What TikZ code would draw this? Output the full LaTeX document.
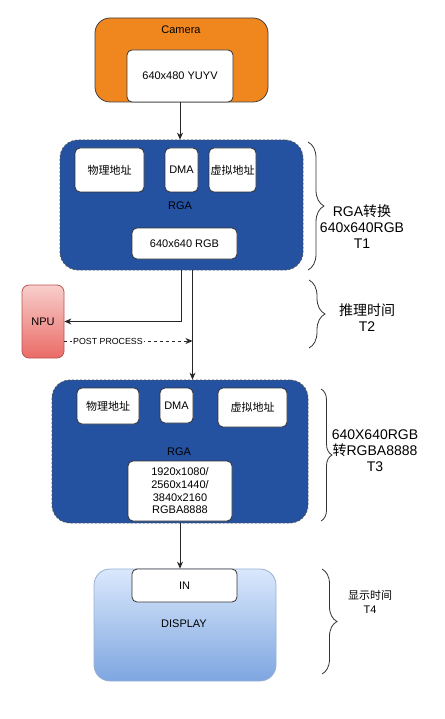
\documentclass[tikz,border=0pt]{standalone}
\usepackage{fontspec}
\setmainfont{Liberation Sans}
\newfontfamily\cjk{Noto Sans CJK SC}
\usetikzlibrary{arrows.meta, decorations.pathreplacing}

\definecolor{cameraorange}{RGB}{240,135,30}
\definecolor{rgablue}{RGB}{36,81,160}
\definecolor{npulight}{RGB}{248,206,204}
\definecolor{npudark}{RGB}{234,107,102}
\definecolor{npuline}{RGB}{184,84,80}
\definecolor{displight}{RGB}{218,232,252}
\definecolor{dispdark}{RGB}{126,166,224}
\definecolor{displine}{RGB}{108,142,191}

\tikzset{
  every node/.style={font=\fontsize{11}{13}\selectfont, inner sep=0pt},
  box/.style={draw=black!80, fill=white, rounded corners=5pt, line width=0.8pt, align=center},
  camerabox/.style={draw=black!75, fill=cameraorange, rounded corners=15pt, line width=0.8pt},
  rgabox/.style={draw=black!70, dash pattern=on 2pt off 2pt, fill=rgablue, rounded corners=18pt, line width=0.8pt},
  npubox/.style={draw=npuline, top color=npulight, bottom color=npudark, rounded corners=7pt, line width=0.8pt},
  displaybox/.style={draw=displine!70, top color=displight, bottom color=dispdark, rounded corners=16pt, line width=0.8pt},
  link/.style={-{Stealth[length=7pt,width=6pt]}, line width=0.8pt, draw=black!85},
  sidebrace/.style={decorate, line width=0.8pt, draw=black!80},
  note/.style={font=\fontsize{14}{16}\selectfont, align=center},
  smallnote/.style={font=\fontsize{11}{14}\selectfont, align=center}
}

\begin{document}
\begin{tikzpicture}[x=1pt, y=-1pt]
\useasboundingbox (0,0) rectangle (444,719);
% Camera source
\node [camerabox, minimum width=173pt, minimum height=84pt] (camera) at (181.5,60) {};
\node (cameratitle) at (181,30) {Camera};
\node [box, minimum width=106pt, minimum height=52pt] (camin) at (180,76) {640x480 YUYV};
% First RGA stage
\node [rgabox, minimum width=243pt, minimum height=130pt] (rga1) at (181.5,205) {};
\node [box, minimum width=69pt, minimum height=44pt] (phys1) at (109.5,170) {\cjk 物理地址};
\node [box, minimum width=33pt, minimum height=44pt] (dma1) at (181.5,170) {DMA};
\node [box, minimum width=47pt, minimum height=44pt] (virt1) at (232.5,170) {\cjk 虚拟地址};
\node (rga1title) at (180,206) {RGA};
\node [box, minimum width=105pt, minimum height=31pt] (rgb1) at (184.5,243.5) {640x640 RGB};
\draw [link] (camin.south) -- (camin.south |- rga1.north);
% NPU and post processing
\node [npubox, minimum width=42pt, minimum height=73pt] (npu) at (43,321.5) {NPU};
\draw [link] (rga1.south) |- (npu.east);
\coordinate (feed) at (192.5,341);
\draw [link, dash pattern=on 3pt off 3pt] ([yshift=-19.5pt]npu.east) -- node [pos=0.34, fill=white, inner sep=1pt, font=\fontsize{8.8}{10}\selectfont] (post) {POST PROCESS} (feed);
% Second RGA stage
\node [rgabox, minimum width=256pt, minimum height=143pt] (rga2) at (180,451.5) {};
\node [box, minimum width=62pt, minimum height=36pt] (phys2) at (108,406) {\cjk 物理地址};
\node [box, minimum width=33pt, minimum height=35pt] (dma2) at (176.5,405.5) {DMA};
\node [box, minimum width=69pt, minimum height=39pt] (virt2) at (252.5,407.5) {\cjk 虚拟地址};
\node (rga2title) at (179,452) {RGA};
\node [box, minimum width=104pt, minimum height=60pt, font=\fontsize{11}{12.7}\selectfont] (rgba2) at (180,491) {1920x1080/\\2560x1440/\\3840x2160\\RGBA8888};
\draw [link] ([xshift=11pt]rga1.south) -- ([xshift=11pt]rga1.south |- rga2.north);
% Display
\node [displaybox, minimum width=182pt, minimum height=112pt] (display) at (185,625) {};
\node [box, minimum width=105pt, minimum height=33pt] (in) at (184.5,585.5) {IN};
\node (displaytitle) at (184,624) {DISPLAY};
\draw [link] (rga2.south) -- (rga2.south |- display.north);
% Timing braces
\draw [sidebrace, decoration={brace, amplitude=16pt}] (308,142) -- (308,270);
\node [note] (t1) at (362,227) {RGA{\cjk 转换}\\640x640RGB\\T1};
\draw [sidebrace, decoration={brace, amplitude=16pt}] (309,280) -- (309,348);
\node [note] (t2) at (367,318) {{\cjk 推理时间}\\T2};
\draw [sidebrace, decoration={brace, amplitude=11pt}] (321,389) -- (321,521);
\node [note] (t3) at (375,451) {640X640RGB\\{\cjk 转}RGBA8888\\T3};
\draw [sidebrace, decoration={brace, amplitude=15pt}] (322,569) -- (322,674);
\node [smallnote] (t4) at (370,602) {{\cjk 显示时间}\\T4};
\end{tikzpicture}
\end{document}
